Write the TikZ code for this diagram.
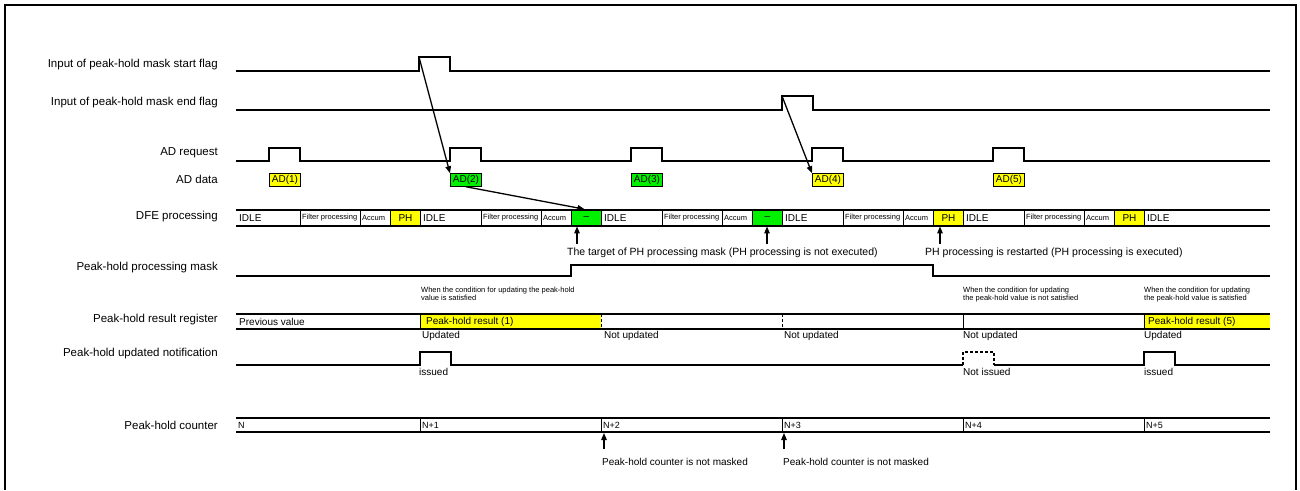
\documentclass[tikz,border=0pt]{standalone}
\usepackage{fontspec}
\setmainfont{Liberation Sans}
\usetikzlibrary{arrows.meta}

\definecolor{phyellow}{RGB}{255,255,0}
\definecolor{phgreen}{RGB}{0,240,0}

\newcommand{\fsz}[1]{\fontsize{#1}{#1}\selectfont}

\begin{document}
\begin{tikzpicture}[
    x=1pt, y=-1pt,
    every node/.style={text=black, inner sep=0pt},
    sig/.style={line width=1.3pt, line join=miter},
    busline/.style={line width=1.8pt},
    divider/.style={line width=0.9pt},
    dashdiv/.style={line width=1pt, dash pattern=on 3pt off 2pt},
    arr/.style={line width=1.3pt, -{Triangle[length=7pt, width=5.5pt]}},
    rowlabel/.style={anchor=east, font=\fsz{11.5}},
    note/.style={anchor=west, font=\fsz{10}},
    smallnote/.style={anchor=north west, align=left, font=\fontsize{7.5}{8}\selectfont},
    cellfont/.style={anchor=west, font=\fsz{7.5}},
    adbox/.style={draw, line width=1pt, minimum width=31pt, minimum height=12.5pt, anchor=west, font=\fsz{10}},
    phcell/.style={draw, line width=0.9pt, minimum width=30pt, minimum height=16pt, anchor=west, font=\fsz{10}}
]
    \useasboundingbox (0,0) rectangle (1300,490);

    % --- Frame ---
    \draw[line width=2pt] (5,490) -- (5,5) -- (1296,5) -- (1296,490);

    % --- Row labels ---
    \node[rowlabel] (lstart) at (218,65)  {Input of peak-hold mask start flag};
    \node[rowlabel] (lend)   at (218,103) {Input of peak-hold mask end flag};
    \node[rowlabel] (lreq)   at (218,153) {AD request};
    \node[rowlabel] (ldata)  at (218,179) {AD data};
    \node[rowlabel] (ldfe)   at (218,217) {DFE processing};
    \node[rowlabel] (lmask)  at (218,268) {Peak-hold processing mask};
    \node[rowlabel] (lreg)   at (218,320) {Peak-hold result register};
    \node[rowlabel] (lnotif) at (218,354) {Peak-hold updated notification};
    \node[rowlabel] (lcnt)   at (218,425) {Peak-hold counter};

    % --- Mask start / end flags ---
    \draw[sig] (236,71) -- (419,71) -- (419,57) -- (450,57) -- (450,71) -- (1270,71);
    \draw[sig] (236,110) -- (782,110) -- (782,96) -- (813,96) -- (813,110) -- (1270,110);
    \coordinate (sflag) at (419,57);
    \coordinate (eflag) at (782,96);

    % --- AD request and AD data ---
    \draw[sig] (236,161) \foreach \p in {269,450,631,812,993} {
        -- (\p,161) -- (\p,148) -- (\p+31,148) -- (\p+31,161)} -- (1270,161);
    \foreach \i/\p/\col in {1/269/phyellow, 2/450/phgreen, 3/631/phgreen, 4/812/phyellow, 5/993/phyellow}
        \node[adbox, fill=\col] (ad\i) at (\p,180) {AD(\i)};

    % --- DFE processing (one cycle = 181) ---
    \node[cellfont, font=\fsz{10}] (idle) at (239,218) {IDLE};
    \foreach \k/\col/\txt in {0/phyellow/PH, 1/phgreen/--, 2/phgreen/--, 3/phyellow/PH, 4/phyellow/PH} {
        \pgfmathsetmacro{\st}{239+181*\k}
        \draw[divider] (\st+61,210) -- (\st+61,226);
        \draw[divider] (\st+121,210) -- (\st+121,226);
        \node[cellfont] (filt\k) at (\st+63,218) {Filter processing};
        \node[cellfont] (acc\k) at (\st+123,218) {Accum};
        \node[phcell, fill=\col] (ph\k) at (\st+151,218) {\txt};
        \node[cellfont, font=\fsz{10}] (idle\k) at (\st+184,218) {IDLE};
    }
    \draw[busline] (236,210) -- (1270,210);
    \draw[busline] (236,226) -- (1270,226);

    % mask start -> AD(2) -> skipped PH, mask end -> AD(4)
    \draw[arr] (sflag) -- (ad2.north west);
    \draw[arr, shorten >=2pt] (ad2.south) -- (ph1.north);
    \draw[arr] (eflag) -- (ad4.north west);

    % notes under DFE
    \coordinate (tg1) at (577,244);
    \coordinate (tg2) at (767,244);
    \coordinate (rs)  at (940,244);
    \draw[arr] (tg1) -- (tg1 |- ph1.south);
    \draw[arr] (tg2) -- (tg2 |- ph2.south);
    \draw[arr] (rs) -- (rs |- ph3.south);
    \node[note, font=\fsz{10.5}] (tgtext) at (567,253) {The target of PH processing mask (PH processing is not executed)};
    \node[note, font=\fsz{10.5}] (rstext) at (925,253) {PH processing is restarted (PH processing is executed)};

    % --- Peak-hold processing mask ---
    \draw[sig] (236,276) -- (571,276) -- (571,265) -- (933,265) -- (933,276) -- (1270,276);

    % --- Peak-hold result register ---
    \node[smallnote] (cond1) at (421,287) {When the condition for updating the peak-hold\\value is satisfied};
    \node[smallnote] (cond4) at (963,287) {When the condition for updating\\the peak-hold value is not satisfied};
    \node[smallnote] (cond5) at (1144,287) {When the condition for updating\\the peak-hold value is satisfied};

    \fill[phyellow] (420,314) rectangle (601,329);
    \fill[phyellow] (1144,314) rectangle (1270,329);
    \draw[divider] (420,314) -- (420,329);
    \draw[dashdiv] (601,314) -- (601,329);
    \draw[dashdiv] (782,314) -- (782,329);
    \draw[divider] (963,314) -- (963,329);
    \draw[divider] (1144,314) -- (1144,329);
    \draw[busline] (236,314) -- (1270,314);
    \draw[busline] (236,329) -- (1270,329);
    \node[note] (prev) at (239,321.5)  {Previous value};
    \node[note] (res1) at (426,321.5)  {Peak-hold result (1)};
    \node[note] (res5) at (1148,321.5) {Peak-hold result (5)};

    \node[note] (upd1)  at (422,336)  {Updated};
    \node[note] (nupd2) at (604,336)  {Not updated};
    \node[note] (nupd3) at (784,336)  {Not updated};
    \node[note] (nupd4) at (963,336)  {Not updated};
    \node[note] (upd5)  at (1144,336) {Updated};

    % --- Peak-hold updated notification ---
    \draw[sig] (236,365) -- (420,365) -- (420,352) -- (451,352) -- (451,365) -- (963,365);
    \draw[sig, dash pattern=on 3pt off 2pt] (963,365) -- (963,352) -- (994,352) -- (994,365);
    \draw[sig] (994,365) -- (1144,365) -- (1144,352) -- (1175,352) -- (1175,365) -- (1270,365);
    \node[note] (iss1)  at (419,372)  {issued};
    \node[note] (niss4) at (963,372)  {Not issued};
    \node[note] (iss5)  at (1144,372) {issued};

    % --- Peak-hold counter ---
    \foreach \x in {420,601,782,963,1144}
        \draw[divider] (\x,418) -- (\x,432);
    \draw[busline] (236,418) -- (1270,418);
    \draw[busline] (236,432) -- (1270,432);
    \coordinate (cntbot) at (236,432);
    \foreach \i/\x/\txt in {0/238/N, 1/422/N+1, 2/603/N+2, 3/784/N+3, 4/965/N+4, 5/1146/N+5}
        \node[note, font=\fsz{9}] (cnt\i) at (\x,425) {\txt};

    \coordinate (cm1) at (604,449);
    \coordinate (cm2) at (784,449);
    \draw[arr, shorten >=1pt] (cm1) -- (cm1 |- cntbot);
    \draw[arr, shorten >=1pt] (cm2) -- (cm2 |- cntbot);
    \node[note, font=\fsz{10}] (cmtext1) at (602,462) {Peak-hold counter is not masked};
    \node[note, font=\fsz{10}] (cmtext2) at (783,462) {Peak-hold counter is not masked};

\end{tikzpicture}
\end{document}
